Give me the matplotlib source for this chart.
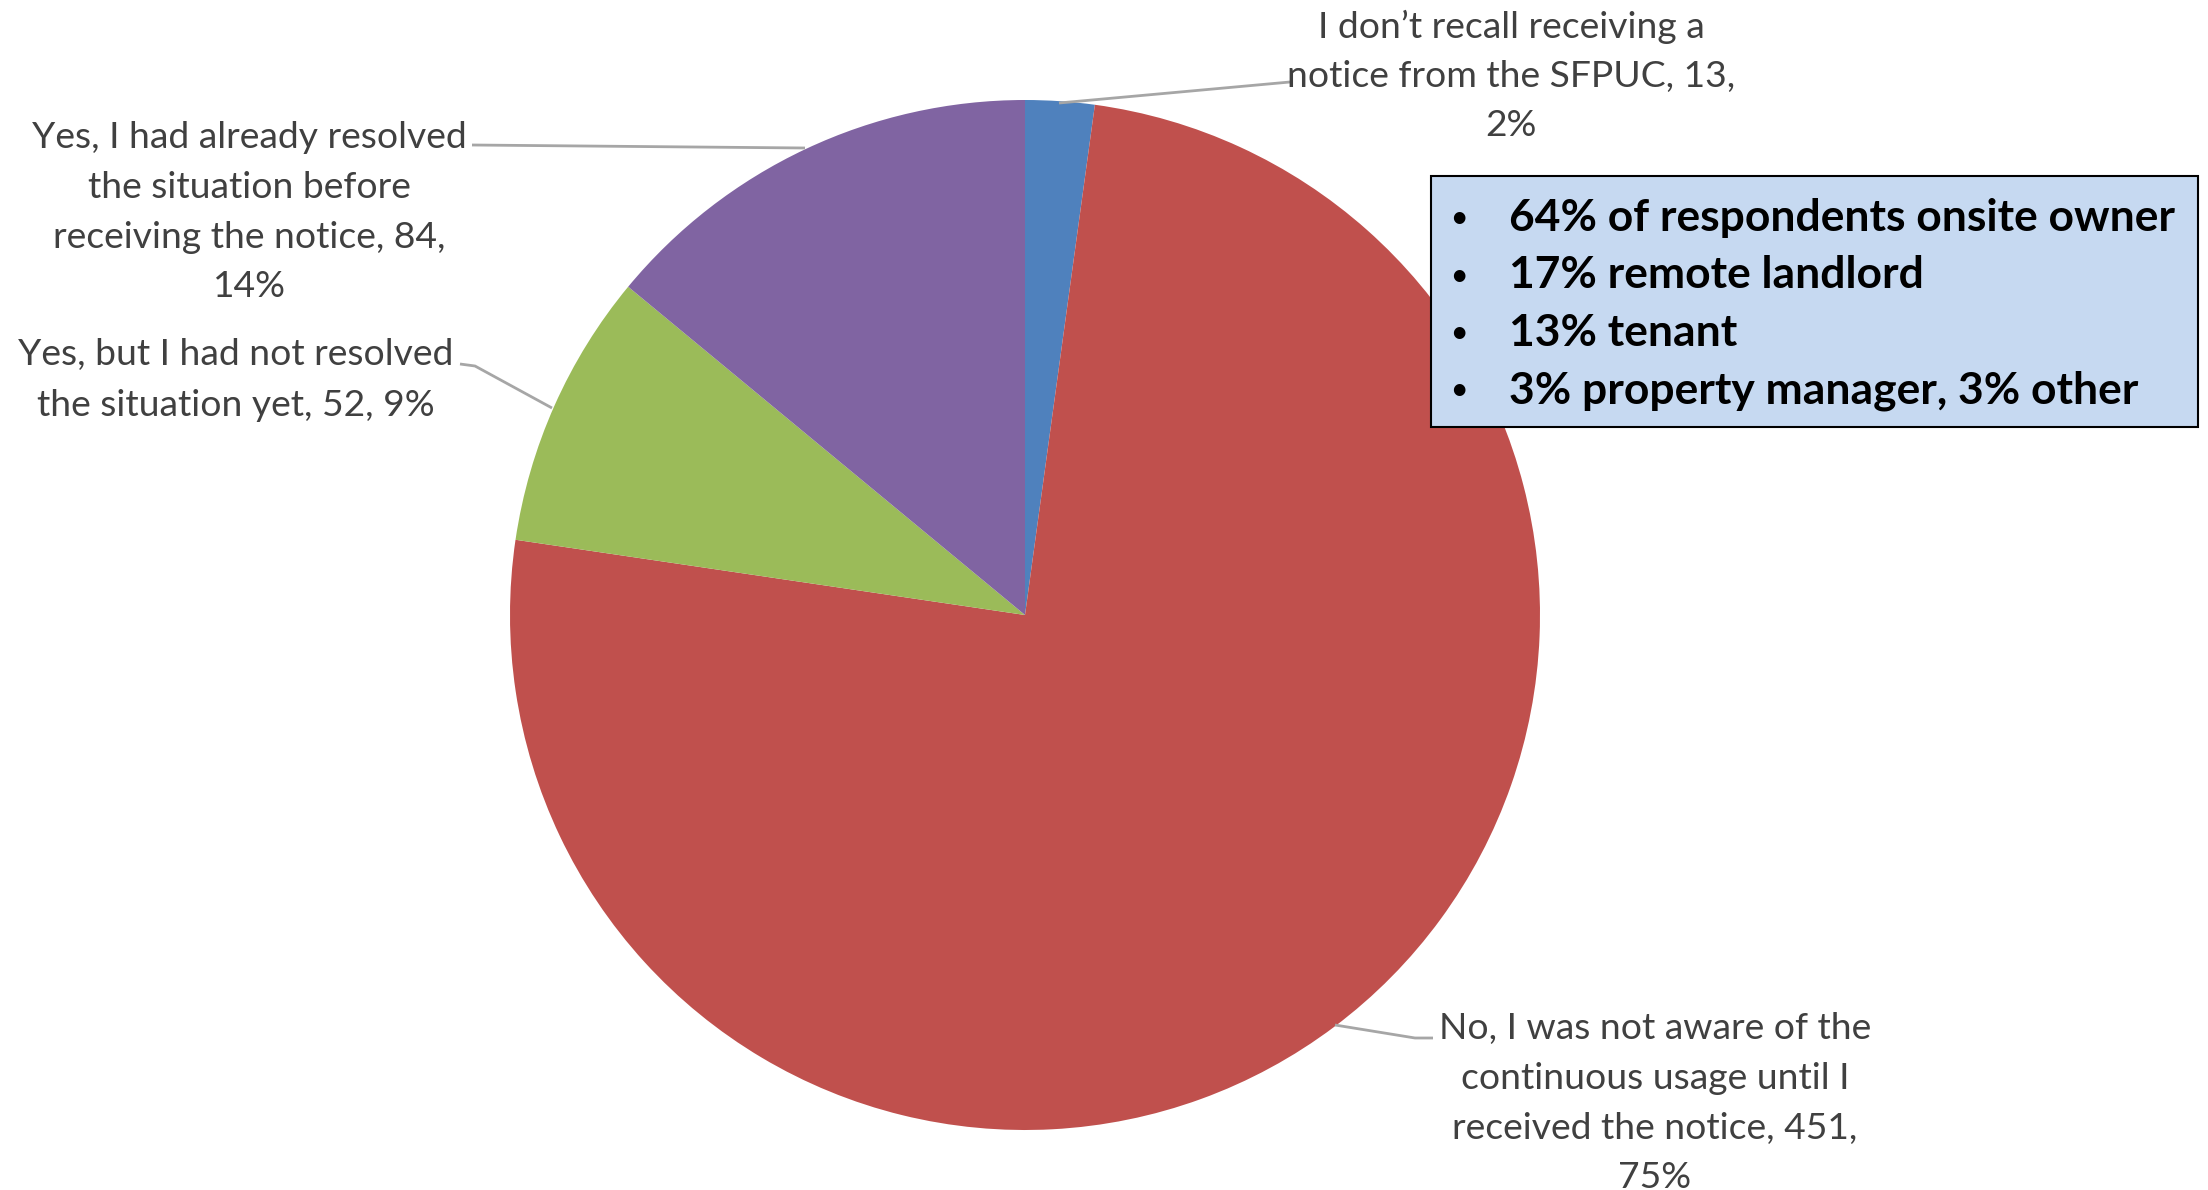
import matplotlib
matplotlib.use("Agg")
import matplotlib.pyplot as plt
from matplotlib.patches import Rectangle

plt.rcParams['font.family'] = ['Lato', 'DejaVu Sans']

# ---- data ----
categories = [
    "I don\u2019t recall receiving a notice from the SFPUC",
    "No, I was not aware of the continuous usage until I received the notice",
    "Yes, but I had not resolved the situation yet",
    "Yes, I had already resolved the situation before receiving the notice",
]
counts = [13, 451, 52, 84]
percents = ["2%", "75%", "9%", "14%"]
label_lines = [
    ["I don\u2019t recall receiving a", "notice from the SFPUC, 13,", "2%"],
    ["No, I was not aware of the", "continuous usage until I", "received the notice, 451,", "75%"],
    ["Yes, but I had not resolved", "the situation yet, 52, 9%"],
    ["Yes, I had already resolved", "the situation before", "receiving the notice, 84,", "14%"],
]
colors = ["#4F81BD", "#C0504D", "#9BBB59", "#8064A2"]
box_lines = [
    "64% of respondents onsite owner",
    "17% remote landlord",
    "13% tenant",
    "3% property manager, 3% other",
]

W, H = 2208, 1190
fig = plt.figure(figsize=(W / 100, H / 100), dpi=100)
ax = fig.add_axes([0, 0, 1, 1])

def Y(y):
    return H - y

cx, cy, R = 1025, 615, 515
ax.pie(counts, colors=colors, startangle=90, counterclock=False,
       center=(cx, Y(cy)), radius=R, frame=True,
       wedgeprops=dict(linewidth=0))
ax.set_xlim(0, W)
ax.set_ylim(0, H)
ax.set_aspect('equal')
ax.axis('off')

renderer = fig.canvas.get_renderer()

def fit_size(lines, target_w, weight='normal', base=20):
    tmp = [ax.text(0, 0, l, fontsize=base, fontweight=weight) for l in lines]
    w = max(t.get_window_extent(renderer).width for t in tmp)
    for t in tmp:
        t.remove()
    return base * target_w / w

# label placement: (center x, first line y, line step, widest line width)
label_layout = [
    (1511, 27, 49.5, 439),
    (1655, 1029, 49.5, 434),
    (236, 355, 50, 441),
    (249, 138, 49.5, 441),
]
gray_text = "#404040"
sizes = [fit_size(lines, tw) for lines, (_, _, _, tw) in zip(label_lines, label_layout)]
fs = sum(sizes) / len(sizes)
for lines, (x, y0, step, tw) in zip(label_lines, label_layout):
    for i, l in enumerate(lines):
        ax.text(x, Y(y0 + i * step), l, fontsize=fs, color=gray_text,
                ha='center', va='center')

# leader lines
lc = "#A6A6A6"
leaders = [
    [(1059, 103), (1290, 82)],
    [(1335, 1025), (1415, 1038), (1433, 1038)],
    [(552, 408), (475, 366), (460, 364)],
    [(805, 148), (472, 145)],
]
for pts in leaders:
    ax.plot([p[0] for p in pts], [Y(p[1]) for p in pts], color=lc, lw=2,
            solid_capstyle='butt')

# info box
bx0, by0, bx1, by1 = 1431, 176, 2198, 427
ax.add_patch(Rectangle((bx0, Y(by1)), bx1 - bx0, by1 - by0,
                       facecolor="#C6D9F1", edgecolor="black", lw=1.5, zorder=5))
bfs = fit_size(box_lines, 666, weight='bold')
for i, l in enumerate(box_lines):
    yy = Y(218 + i * 57.5)
    ax.text(1459, yy, "\u2022", fontsize=bfs * 0.6, fontweight='bold', color='black',
            ha='center', va='center', zorder=6)
    ax.text(1509, yy, l, fontsize=bfs, fontweight='bold', color='black',
            ha='left', va='center', zorder=6)

fig.savefig("out.png", dpi=100, facecolor='white')
